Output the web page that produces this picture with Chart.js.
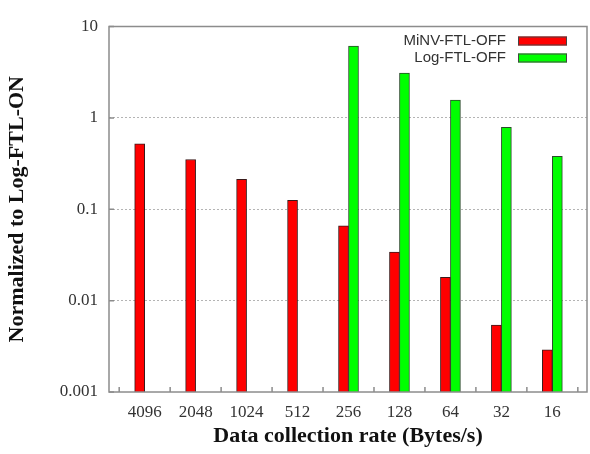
<!DOCTYPE html>
<html>
<head>
<meta charset="utf-8">
<script src="https://cdn.jsdelivr.net/npm/chart.js@4/dist/chart.umd.min.js"></script>
<style>
html,body{margin:0;padding:0;background:#fff;}
#wrap{width:590px;height:454px;}
</style>
</head>
<body>
<div id="wrap"><canvas id="chart1"></canvas></div>
<script>
// data
const categories = ['4096','2048','1024','512','256','128','64','32','16'];
const minvOff = [0.52, 0.35, 0.213, 0.125, 0.066, 0.034, 0.018, 0.0054, 0.0029];
const logOff = [null, null, null, null, 6.1, 3.1, 1.57, 0.79, 0.38];
const yTicks = [0.001, 0.01, 0.1, 1, 10];
const yTickLabels = ['0.001', '0.01', '0.1', '1', '10'];

const serif = '"Liberation Serif","Times New Roman",serif';

// box round the plot + small inward ticks
const frame = {
  id: 'frame',
  afterDatasetsDraw(chart) {
    const {ctx, chartArea: a, scales: {x, y}} = chart;
    ctx.save();
    ctx.strokeStyle = '#8c8c8c';
    ctx.lineWidth = 1.5;
    ctx.strokeRect(a.left, a.top, a.right - a.left, a.bottom - a.top);
    ctx.beginPath();
    yTicks.forEach(v => {
      const py = y.getPixelForValue(v);
      ctx.moveTo(a.left, py); ctx.lineTo(a.left + 5, py);
    });
    for (let i = 0; i <= categories.length; i++) {
      const px = x.getPixelForValue(i - 0.5);
      ctx.moveTo(px, a.bottom); ctx.lineTo(px, a.bottom - 5);
    }
    ctx.stroke();
    ctx.restore();
  }
};

// gnuplot style key: text right aligned, sample box after it
const key = {
  id: 'key',
  afterDraw(chart) {
    const ctx = chart.ctx;
    ctx.save();
    ctx.font = '15px "Liberation Sans", Arial, sans-serif';
    ctx.textAlign = 'right';
    ctx.textBaseline = 'middle';
    chart.data.datasets.forEach((ds, i) => {
      const cy = 41 + i * 17;
      ctx.fillStyle = '#333';
      ctx.fillText(ds.label, 506, cy);
      ctx.fillStyle = ds.backgroundColor;
      ctx.fillRect(518, cy - 4.5, 49, 9);
      ctx.strokeStyle = '#444';
      ctx.lineWidth = 1;
      ctx.strokeRect(518.5, cy - 4, 48, 8);
    });
    ctx.restore();
  }
};

let chart;
draw_chart = () => {
  const ctx = document.getElementById('chart1');
  if (chart) { chart.destroy(); }
  chart = new Chart(ctx, {
    type: 'bar',
    data: {
      datasets: [{
        label: 'MiNV-FTL-OFF',
        data: categories.map((c, i) => ({x: i, y: minvOff[i]})),
        backgroundColor: '#ff0000',
        borderColor: '#3a1a1a',
        borderWidth: 1,
        barThickness: 10
      }, {
        label: 'Log-FTL-OFF',
        data: categories.map((c, i) => ({x: i, y: logOff[i]})),
        backgroundColor: '#00ff00',
        borderColor: '#2a4a2a',
        borderWidth: 1,
        barThickness: 10
      }]
    },
    options: {
      animation: false,
      responsive: true,
      maintainAspectRatio: false,
      devicePixelRatio: 1,
      layout: { padding: { top: 26.5, right: 3, bottom: 0, left: 0 } },
      plugins: { legend: { display: false }, tooltip: { enabled: false } },
      scales: {
        x: {
          type: 'linear',
          offset: false,
          min: -0.7,
          max: 8.68,
          afterBuildTicks: s => { s.ticks = categories.map((c, i) => ({value: i})); },
          afterFit: s => { s.height = 62; },
          grid: { display: false, offset: false },
          border: { display: false },
          ticks: {
            autoSkip: false,
            maxRotation: 0,
            padding: 2,
            color: '#333',
            font: { family: serif, size: 17 },
            callback: v => categories[v]
          },
          title: {
            display: true,
            text: 'Data collection rate (Bytes/s)',
            color: '#111',
            font: { family: serif, size: 22, weight: 'bold' },
            padding: { top: 0, bottom: 4 }
          }
        },
        y: {
          type: 'logarithmic',
          min: 0.001,
          max: 10,
          afterBuildTicks: s => { s.ticks = yTicks.map(v => ({value: v})); },
          afterFit: s => { s.width = 109; },
          grid: {
            drawTicks: false,
            color: c => (c.tick && (c.tick.value === yTicks[0] || c.tick.value === yTicks[yTicks.length - 1])) ? 'rgba(0,0,0,0)' : '#b4b4b4',
            lineWidth: 1
          },
          border: { display: false, dash: [2, 2] },
          ticks: {
            padding: 11,
            color: '#333',
            font: { family: serif, size: 17 },
            callback: (v, i) => yTickLabels[i]
          },
          title: {
            display: true,
            text: 'Normalized to Log-FTL-ON',
            color: '#111',
            font: { family: serif, size: 22, weight: 'bold' },
            padding: { top: 4, bottom: 0 }
          }
        }
      }
    },
    plugins: [frame, key]
  });
};

draw_chart();
</script>
</body>
</html>
